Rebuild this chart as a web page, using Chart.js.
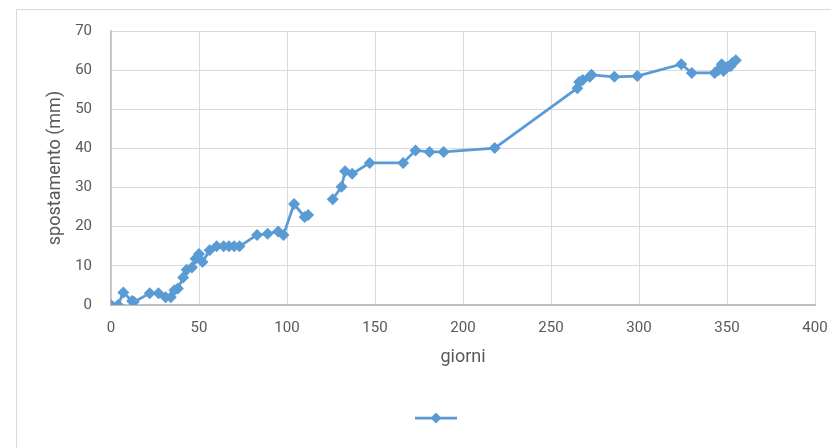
<!DOCTYPE html>
<html>
<head>
<meta charset="utf-8">
<script src="https://cdn.jsdelivr.net/npm/chart.js@4.4.1/dist/chart.umd.min.js"></script>
<style>
  html, body { margin: 0; padding: 0; background: #ffffff; width: 831px; height: 448px; overflow: hidden; }
  #frame { position: absolute; left: 16px; top: 9px; width: 900px; height: 500px; border: 1px solid #d9d9d9; }
  #wrap { position: absolute; left: 0; top: 0; width: 831px; height: 448px; }
</style>
</head>
<body>
<div id="frame"></div>
<div id="wrap"><canvas id="c" width="831" height="448"></canvas></div>
<script>
// giorni (days)
const days = [0, 4, 7, 12, 13, 22, 27, 31, 34, 36, 38, 41, 43, 46, 48, 50, 52, 56, 60, 64,
  67, 70, 73, 83, 89, 95, 98, 104, 110, 112, 119, 126, 131, 133, 137, 147, 166, 173, 181, 189,
  218, 265, 266, 268, 272, 273, 286, 299, 324, 330, 343, 345, 346, 347, 348, 350, 352, 353, 355];
// spostamento (mm); null = gap in the line
const spostamento = [0, 0, 3.2, 1, 0.8, 3, 3, 2, 2, 3.8, 4.2, 7, 9, 9.6, 11.8, 13, 11, 14, 15, 15,
  15, 15, 15, 17.9, 18.2, 18.8, 17.9, 25.8, 22.5, 23, null, 27, 30.2, 34.2, 33.5, 36.3, 36.3, 39.5, 39.1, 39.1,
  40.1, 55.4, 57, 57.5, 58.3, 58.8, 58.3, 58.5, 61.5, 59.3, 59.3, 60, 60.5, 61.5, 59.8, 60.8, 61, 61.8, 62.5];
const xTicks = [0, 50, 100, 150, 200, 250, 300, 350, 400];
const yTicks = [0, 10, 20, 30, 40, 50, 60, 70];
const xTitle = 'giorni';
const yTitle = 'spostamento (mm)';

const COLOR = '#5B9BD5';
const FONT = 'Roboto, "Liberation Sans", sans-serif';
const points = days.map((d, i) => ({ x: d, y: spostamento[i] }));

const legendPlugin = {
  id: 'frameLegend',
  afterDraw(chart) {
    const ctx = chart.ctx;
    const cx = 436, cy = 418;
    ctx.save();
    ctx.strokeStyle = COLOR;
    ctx.lineWidth = 2.75;
    ctx.beginPath();
    ctx.moveTo(cx - 21, cy);
    ctx.lineTo(cx + 21, cy);
    ctx.stroke();
    ctx.fillStyle = COLOR;
    ctx.beginPath();
    const r = 5.5;
    ctx.moveTo(cx, cy - r);
    ctx.lineTo(cx + r, cy);
    ctx.lineTo(cx, cy + r);
    ctx.lineTo(cx - r, cy);
    ctx.closePath();
    ctx.fill();
    ctx.restore();
  }
};

new Chart(document.getElementById('c'), {
  type: 'line',
  data: {
    datasets: [{
      label: '',
      data: points,
      borderColor: COLOR,
      backgroundColor: COLOR,
      borderWidth: 2.75,
      pointStyle: 'rectRot',
      pointRadius: 6,
      pointBorderWidth: 0,
      pointBackgroundColor: COLOR,
      spanGaps: false,
      tension: 0
    }]
  },
  options: {
    responsive: false,
    animation: false,
    layout: { padding: { top: 31, left: 0, right: 16, bottom: 80 } },
    plugins: { legend: { display: false }, tooltip: { enabled: false } },
    scales: {
      x: {
        type: 'linear',
        min: 0, max: 400,
        afterBuildTicks: (s) => { s.ticks = xTicks.map(v => ({ value: v })); },
        afterFit: (s) => { s.height = 63; s.paddingRight = 8; s.paddingLeft = 8; },
        ticks: { padding: 14, color: '#595959', font: { family: FONT, size: 15 } },
        grid: { color: '#d9d9d9', lineWidth: 1, drawTicks: false },
        border: { color: '#bfbfbf', width: 2 },
        title: { display: true, text: xTitle, color: '#595959', font: { family: FONT, size: 18 }, padding: { top: 0, bottom: 0 } }
      },
      y: {
        min: 0, max: 70,
        afterBuildTicks: (s) => { s.ticks = yTicks.map(v => ({ value: v })); },
        afterFit: (s) => { s.width = 111; },
        ticks: { padding: 19, color: '#595959', font: { family: FONT, size: 15 } },
        grid: { color: '#d9d9d9', lineWidth: 1, drawTicks: false },
        border: { color: '#bfbfbf', width: 1.5 },
        title: { display: true, text: yTitle, color: '#595959', font: { family: FONT, size: 18 }, padding: { top: 45, bottom: 0 } }
      }
    }
  },
  plugins: [legendPlugin]
});
</script>
</body>
</html>
